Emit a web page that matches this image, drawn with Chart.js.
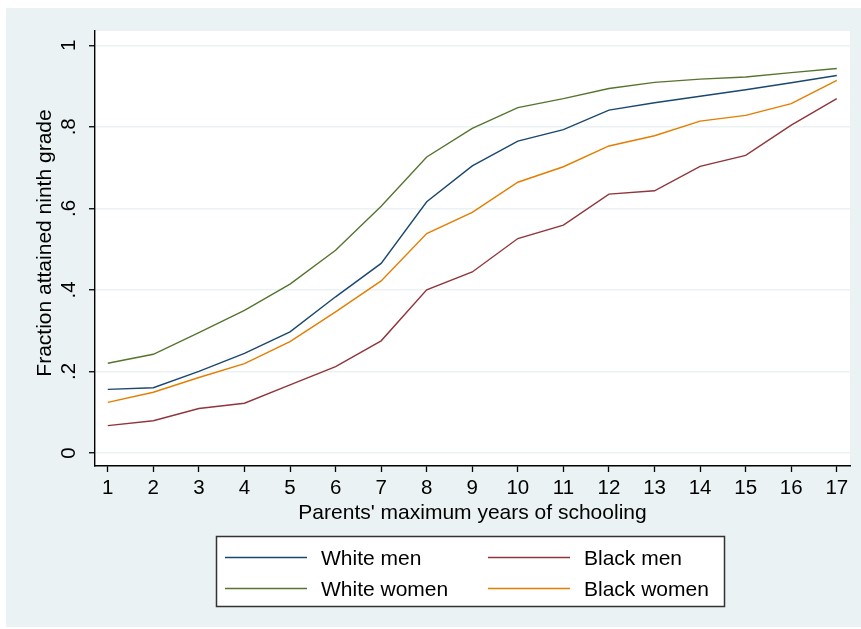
<!DOCTYPE html>
<html>
<head>
<meta charset="utf-8">
<script src="https://cdn.jsdelivr.net/npm/chart.js@4/dist/chart.umd.min.js"></script>
<style>
  html, body { margin: 0; padding: 0; background: #ffffff; }
  #chart { display: block; }
</style>
</head>
<body>
<canvas id="chart" width="861" height="629"></canvas>
<script>
// Parents' maximum years of schooling (x categories)
const years = [1, 2, 3, 4, 5, 6, 7, 8, 9, 10, 11, 12, 13, 14, 15, 16, 17];

// Fraction of each group that attained ninth grade
const whiteMen   = [0.156, 0.160, 0.200, 0.244, 0.297, 0.383, 0.465, 0.616, 0.704, 0.765, 0.793, 0.841, 0.859, 0.875, 0.891, 0.908, 0.926];
const blackMen   = [0.067, 0.079, 0.109, 0.122, 0.167, 0.212, 0.275, 0.400, 0.444, 0.526, 0.559, 0.635, 0.643, 0.703, 0.730, 0.804, 0.869];
const whiteWomen = [0.220, 0.242, 0.295, 0.350, 0.414, 0.497, 0.605, 0.726, 0.796, 0.847, 0.869, 0.894, 0.909, 0.917, 0.922, 0.933, 0.943];
const blackWomen = [0.124, 0.149, 0.185, 0.219, 0.273, 0.346, 0.422, 0.538, 0.590, 0.664, 0.702, 0.753, 0.778, 0.814, 0.828, 0.857, 0.914];

// Y-axis ticks and their labels
const yTicks      = [0, 0.2, 0.4, 0.6, 0.8, 1];
const yTickLabels = ['0', '.2', '.4', '.6', '.8', '1'];

const seriesNames = ['White men', 'Black men', 'White women', 'Black women'];
const seriesData  = [whiteMen, blackMen, whiteWomen, blackWomen];
const seriesColors = ['#1a476f', '#90353b', '#55752f', '#e37e00'];

const FONT = '"Liberation Sans", Arial, sans-serif';
const BG = '#eaf2f3';

// Page background, white plot region, rotated y labels, axis titles and legend box
const frame = {
  id: 'frame',
  beforeDraw(chart) {
    const { ctx, chartArea: a } = chart;
    ctx.save();
    ctx.fillStyle = '#ffffff';
    ctx.fillRect(0, 0, chart.width, chart.height);
    ctx.fillStyle = BG;
    ctx.fillRect(6, 8, chart.width - 6, 619);
    ctx.fillStyle = '#ffffff';
    ctx.fillRect(a.left, a.top, a.right - a.left, a.bottom - a.top);
    ctx.restore();
  },
  afterDraw(chart) {
    const { ctx, chartArea: a } = chart;
    const y = chart.scales.y;
    ctx.save();
    ctx.fillStyle = '#000000';

    // y tick labels, rotated like the axis title
    ctx.font = '20.5px ' + FONT;
    ctx.textAlign = 'center';
    ctx.textBaseline = 'alphabetic';
    yTicks.forEach((v, i) => {
      const py = y.getPixelForValue(v);
      ctx.save();
      ctx.translate(75, py);
      ctx.rotate(-Math.PI / 2);
      ctx.fillText(yTickLabels[i], 0, 0);
      ctx.restore();
    });

    // axis titles
    ctx.font = '21px ' + FONT;
    ctx.save();
    ctx.translate(51, 243);
    ctx.rotate(-Math.PI / 2);
    ctx.fillText('Fraction attained ninth grade', 0, 0);
    ctx.restore();
    ctx.fillText("Parents' maximum years of schooling", (a.left + a.right) / 2, 519);

    // legend
    ctx.fillStyle = '#ffffff';
    ctx.fillRect(216, 536, 508, 70);
    ctx.strokeStyle = '#333333';
    ctx.lineWidth = 1.5;
    ctx.strokeRect(216.5, 536.5, 508, 70);
    ctx.textAlign = 'left';
    chart.data.datasets.forEach((ds, i) => {
      const col = i % 2, row = Math.floor(i / 2);
      const lx = 225 + col * 263;
      const ly = 557.5 + row * 31;
      ctx.strokeStyle = ds.borderColor;
      ctx.lineWidth = 1.4;
      ctx.beginPath();
      ctx.moveTo(lx, ly);
      ctx.lineTo(lx + 82, ly);
      ctx.stroke();
      ctx.fillStyle = '#000000';
      ctx.fillText(ds.label, 321 + col * 263, ly + 7);
    });
    ctx.restore();
  }
};

new Chart(document.getElementById('chart'), {
  type: 'line',
  data: {
    datasets: seriesNames.map((name, i) => ({
      label: name,
      data: years.map((yr, j) => ({ x: yr, y: seriesData[i][j] })),
      borderColor: seriesColors[i],
      backgroundColor: seriesColors[i],
      borderWidth: 1.4,
      pointRadius: 0,
      tension: 0,
      fill: false
    }))
  },
  options: {
    responsive: false,
    devicePixelRatio: 1,
    animation: false,
    layout: { padding: { left: 0, top: 31, right: 11, bottom: 0 } },
    plugins: { legend: { display: false }, tooltip: { enabled: false }, title: { display: false } },
    scales: {
      x: {
        type: 'linear',
        position: 'bottom',
        min: 0.72,
        max: 17.29,
        afterBuildTicks(scale) { scale.ticks = years.map(v => ({ value: v })); },
        afterFit(scale) { scale.height = 163; },
        ticks: {
          color: '#000000',
          font: { family: FONT, size: 20.5 },
          padding: 4,
          maxRotation: 0,
          autoSkip: false,
          callback: v => String(v)
        },
        grid: { display: true, drawOnChartArea: false, drawTicks: true, tickLength: 6, tickColor: '#000000', tickWidth: 1.3 },
        border: { display: true, color: '#000000', width: 1.4 }
      },
      y: {
        type: 'linear',
        min: -0.032,
        max: 1.035,
        afterBuildTicks(scale) { scale.ticks = yTicks.map(v => ({ value: v })); },
        afterFit(scale) { scale.width = 95; },
        ticks: { display: false },
        grid: { display: true, drawOnChartArea: true, color: BG, lineWidth: 1.5, drawTicks: true, tickLength: 6, tickColor: '#000000', tickWidth: 1.3 },
        border: { display: true, color: '#000000', width: 1.4 }
      }
    }
  },
  plugins: [frame]
});
</script>
</body>
</html>
